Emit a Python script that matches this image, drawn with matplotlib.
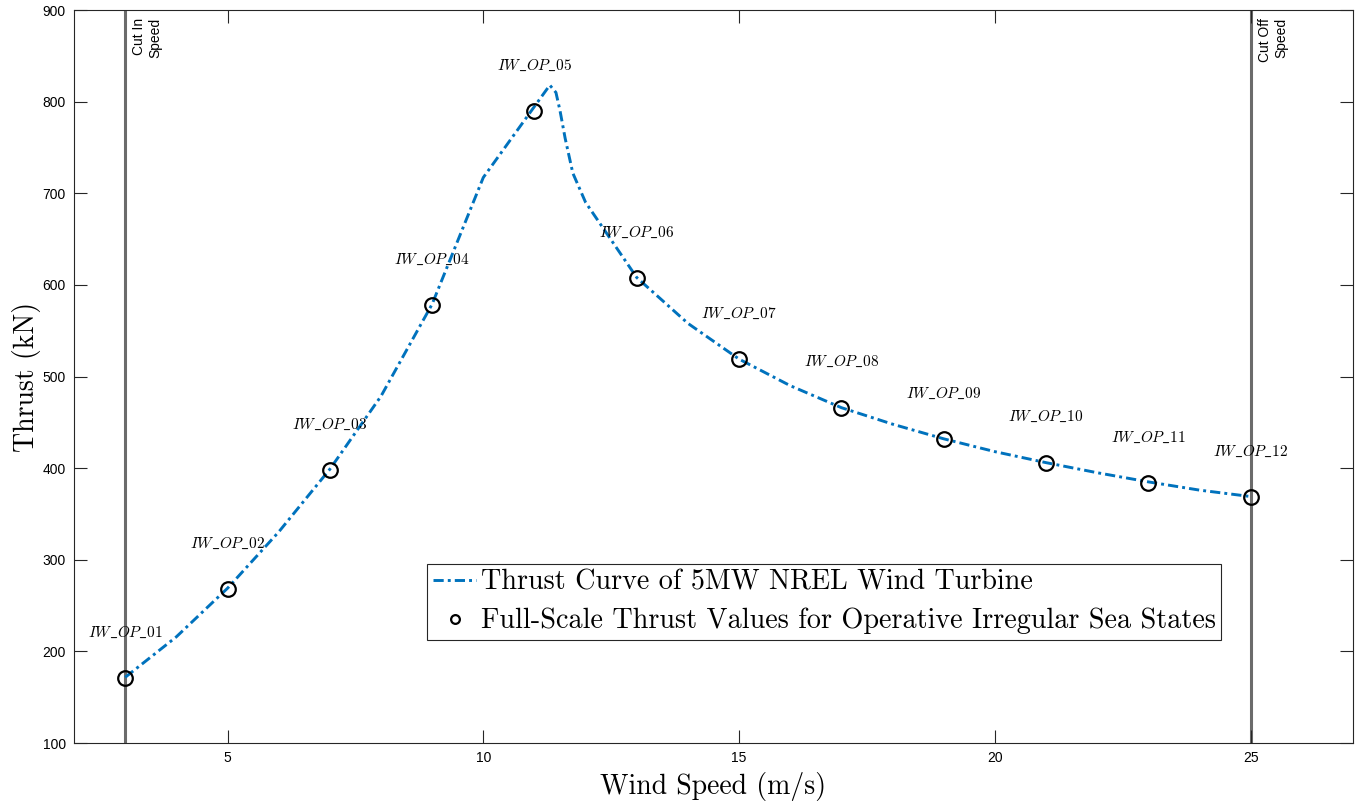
import numpy as np
import matplotlib
matplotlib.use('Agg')
import matplotlib.pyplot as plt

plt.rcParams['mathtext.fontset'] = 'cm'
plt.rcParams['font.family'] = ['Liberation Sans', 'DejaVu Sans']

# Thrust curve of the NREL 5MW turbine (kN vs m/s)
curve_ws = [3, 4, 5, 6, 7, 8, 9, 10, 11.3, 11.42, 11.5, 11.6, 11.75, 12, 13, 14, 15,
            16, 17, 18, 19, 20, 21, 22, 23, 24, 25]
curve_thrust = [171.7, 215.9, 268.9, 330.3, 398.8, 478.5, 579.0, 717.2, 818, 810,
                790, 760, 722, 690, 608, 558, 519, 490, 466, 448, 432, 418, 406,
                395, 385, 376, 369]

# Operative irregular sea states
op_ws = [3, 5, 7, 9, 11, 13, 15, 17, 19, 21, 23, 25]
op_thrust = [171, 268, 398, 578, 790, 607.5, 519, 466, 432, 406, 384, 368.5]
op_labels = ['IW_OP_%02d' % (i + 1) for i in range(len(op_ws))]

cut_in, cut_off = 3, 25

fig = plt.figure(figsize=(13.61, 8.01), dpi=100)
ax = fig.add_axes([0.0544, 0.0724, 0.9397, 0.9151])

# Cut in / cut off speed markers
grey = (0.42, 0.42, 0.42)
ax.axvline(cut_in, color=grey, lw=2.2, zorder=1)
ax.axvline(cut_off, color=grey, lw=2.2, zorder=1)
ax.text(cut_in + 0.14, 891, 'Cut In\nSpeed', rotation=90, ha='left', va='top',
        multialignment='right', fontsize=10, color='black')
ax.text(cut_off + 0.14, 891, 'Cut Off\nSpeed', rotation=90, ha='left', va='top',
        multialignment='right', fontsize=10, color='black')

ax.plot(curve_ws, curve_thrust, color='#0072BD', lw=2.1,
        linestyle=(0, (3.5, 1.4, 1.0, 1.4)), zorder=2,
        label='Thrust Curve of 5MW NREL Wind Turbine')
ax.plot(op_ws, op_thrust, 'o', mfc='none', mec='black', mew=1.6, ms=10.5, zorder=3,
        label='Full-Scale Thrust Values for Operative Irregular Sea States')

for x, y, lab in zip(op_ws, op_thrust, op_labels):
    ax.text(x, y + 50, '$' + lab.replace('_', r'\_') + '$', ha='center',
            va='center', fontsize=11)

ax.set_xlim(2, 27)
ax.set_ylim(100, 900)
ax.set_xticks([5, 10, 15, 20, 25])
ax.set_yticks(range(100, 901, 100))
ax.tick_params(direction='in', length=9.3, width=0.8, top=True, right=True,
               labelsize=10, colors=(0.15, 0.15, 0.15), labelcolor='black', pad=6)
for s in ax.spines.values():
    s.set_color((0.15, 0.15, 0.15))
    s.set_linewidth(0.8)

ax.set_xlabel('Wind Speed (m/s)', family='cmr10', fontsize=20, labelpad=5)
ax.set_ylabel('Thrust (kN)', family='cmr10', fontsize=20, labelpad=1)

leg = ax.legend(loc='lower left', bbox_to_anchor=(0.276, 0.1405), borderaxespad=0,
                prop=dict(family='cmr10', size=20.3), fancybox=False,
                edgecolor=(0.15, 0.15, 0.15), framealpha=1, handlelength=1.55,
                handletextpad=0.15, borderpad=0.2, labelspacing=0.44,
                markerscale=0.6)
leg.get_frame().set_linewidth(0.8)

fig.savefig('out.png', dpi=100)
